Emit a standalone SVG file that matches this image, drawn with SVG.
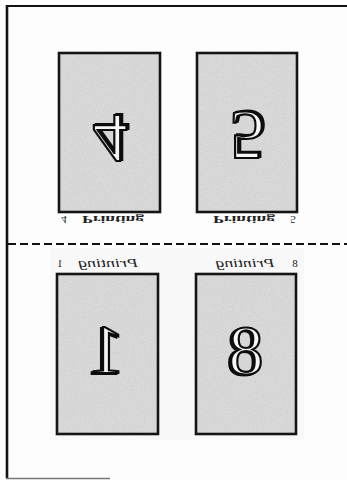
<svg xmlns="http://www.w3.org/2000/svg" width="347" height="480" viewBox="0 0 347 480">
  <defs>
    <filter id="speckle" x="0" y="0" width="100%" height="100%">
      <feTurbulence type="fractalNoise" baseFrequency="0.9" numOctaves="2" seed="3" result="n"/>
      <feColorMatrix in="n" type="matrix" values="0 0 0 0 0.6  0 0 0 0 0.6  0 0 0 0 0.6  0 0 0 -2.2 1.2" result="dots"/>
      <feComposite in="dots" in2="SourceGraphic" operator="in" result="d2"/>
      <feMerge><feMergeNode in="SourceGraphic"/><feMergeNode in="d2"/></feMerge>
    </filter>
    <filter id="shade" x="-20%" y="-20%" width="140%" height="140%">
      <feOffset in="SourceAlpha" dx="1.8" dy="0.6" result="o"/>
      <feFlood flood-color="#111"/>
      <feComposite in2="o" operator="in" result="s"/>
      <feMerge><feMergeNode in="s"/><feMergeNode in="SourceGraphic"/></feMerge>
    </filter>
  </defs>
  <style>
    .fill { fill: #d9d9d9; stroke: none; }
    .panel { fill: none; stroke: #151515; stroke-width: 2.6; }
    .num { font-family: "Liberation Serif", serif; font-size: 70px; fill: #f6f6f6; stroke: #111; stroke-width: 2.2; text-anchor: middle; }
    .hdrTop { font-family: "Liberation Serif", serif; font-size: 11px; font-weight: bold; fill: #222; text-anchor: middle; }
    .hdrBot { font-family: "Liberation Serif", serif; font-size: 12px; font-style: italic; fill: #222; text-anchor: middle; }
    .pg { font-family: "Liberation Serif", serif; font-size: 11px; fill: #222; text-anchor: middle; }
  </style>

  <rect x="0" y="0" width="347" height="480" fill="#fdfdfd"/>
  <rect x="50" y="248" width="254" height="192" fill="#f8f8f8"/>

  <g id="sheet-border" fill="none">
    <line x1="7" y1="5" x2="7" y2="478" stroke="#111" stroke-width="2.6"/>
    <line x1="6" y1="6" x2="347" y2="6" stroke="#111" stroke-width="2"/>
    <line x1="6" y1="478.5" x2="110" y2="478.5" stroke="#777" stroke-width="1.5"/>
  </g>

  <g id="fold-line">
    <line x1="8" y1="244" x2="347" y2="244" stroke="#111" stroke-width="2" stroke-dasharray="8 4"/>
  </g>

  <g id="page-4">
    <rect class="fill" x="59" y="53" width="101" height="159" filter="url(#speckle)"/>
    <rect class="panel" x="59" y="53" width="101" height="159"/>
    <text class="num" filter="url(#shade)" transform="translate(110,115) scale(1,-1)" x="0" y="0">4</text>
    <text class="pg" transform="translate(64,216) scale(1,-1)" x="0" y="0">4</text>
    <text class="hdrTop" transform="translate(113,216) scale(1,-1)" x="0" y="0" textLength="62" lengthAdjust="spacingAndGlyphs">Printing</text>
  </g>

  <g id="page-5">
    <rect class="fill" x="197" y="53" width="100" height="159" filter="url(#speckle)"/>
    <rect class="panel" x="197" y="53" width="100" height="159"/>
    <text class="num" filter="url(#shade)" transform="translate(247,112) scale(1,-1)" x="0" y="0">5</text>
    <text class="hdrTop" transform="translate(244,216) scale(1,-1)" x="0" y="0" textLength="62" lengthAdjust="spacingAndGlyphs">Printing</text>
    <text class="pg" transform="translate(293,216) scale(1,-1)" x="0" y="0">5</text>
  </g>

  <g id="page-1">
    <rect class="fill" x="57" y="274" width="101" height="160" filter="url(#speckle)"/>
    <rect class="panel" x="57" y="274" width="101" height="160"/>
    <text class="num" filter="url(#shade)" transform="translate(107,373) scale(-1,1)" x="0" y="0">1</text>
    <text class="pg" transform="translate(60,267) scale(-1,1)" x="0" y="0">1</text>
    <text class="hdrBot" transform="translate(108,267) scale(-1,1)" x="0" y="0" textLength="60" lengthAdjust="spacingAndGlyphs">Printing</text>
  </g>

  <g id="page-8">
    <rect class="fill" x="196" y="274" width="100" height="160" filter="url(#speckle)"/>
    <rect class="panel" x="196" y="274" width="100" height="160"/>
    <text class="num" filter="url(#shade)" transform="translate(246,374) scale(-1,1)" x="0" y="0">8</text>
    <text class="hdrBot" transform="translate(245,267) scale(-1,1)" x="0" y="0" textLength="59" lengthAdjust="spacingAndGlyphs">Printing</text>
    <text class="pg" transform="translate(295,267) scale(-1,1)" x="0" y="0">8</text>
  </g>
</svg>
